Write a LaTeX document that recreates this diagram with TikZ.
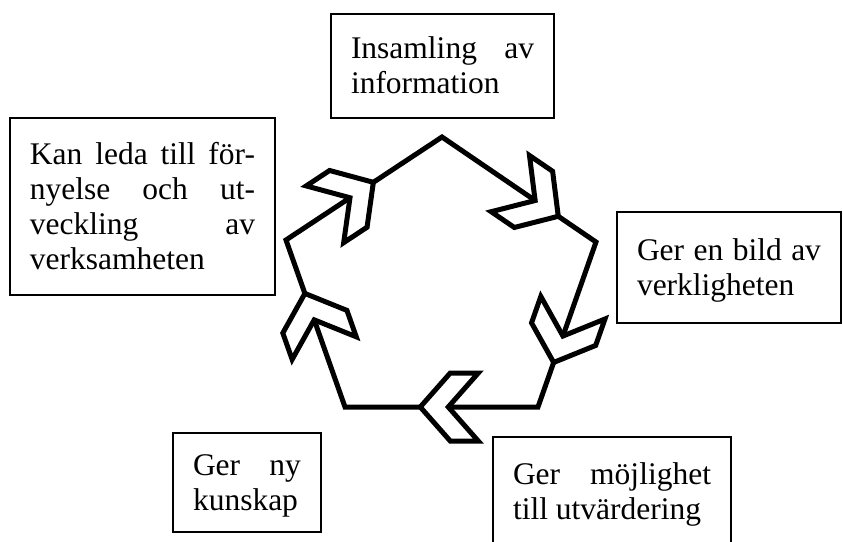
\documentclass[tikz,border=0pt]{standalone}
\usepackage{fontspec}
\setmainfont{Liberation Serif}
\tikzstyle{textbox} =
  [rectangle, draw, line width=0.6pt, inner xsep=10pt, inner ysep=0pt,
   align=justify, font=\fontsize{15.75pt}{17.5pt}\selectfont,
   execute at begin node=\rule{0pt}{15.25pt}, execute at end node=\strut]
\tikzstyle{cycleline}=[draw, line width=2.5pt]
\tikzset{chevron/.pic={
  \draw [cycleline, fill=white] (0,0) -- (-30,34) -- (-58,34) -- (-28,0)
    -- (-58,-34) -- (-30,-34) -- cycle;}}

\begin{document}
\begin{tikzpicture}[x=0.5pt, y=-0.5pt]
  \useasboundingbox (0,0) rectangle (843,542);

  \coordinate (t) at (442,137);
  \coordinate (r) at (596,242);
  \coordinate (br) at (538,407);
  \coordinate (bl) at (345,407);
  \coordinate (l) at (286,240);

  \draw [cycleline] (t) -- (r) -- (br) -- (bl) -- (l) -- cycle;
  \path (t) -- pic [pos=0.755, sloped, allow upside down] {chevron} (r);
  \path (r) -- pic [pos=0.73, sloped, allow upside down] {chevron} (br);
  \path (br) -- pic [pos=0.61, sloped, allow upside down] {chevron} (bl);
  \path (bl) -- pic [pos=0.68, sloped, allow upside down] {chevron} (l);
  \path (l) -- pic [pos=0.56, sloped, allow upside down] {chevron} (t);

  \node [textbox, text width=91.5pt, minimum height=52pt] (info) at (442.5,66)
    {Insamling av\linebreak information};
  \node [textbox, text width=112.5pt, minimum height=88.5pt] (forn) at (142.5,206.5)
    {Kan leda till för-\linebreak nyelse och ut-\linebreak veckling av\linebreak verksamheten};
  \node [textbox, text width=92pt, minimum height=55.5pt] (bild) at (729,267.5)
    {Ger en bild av\linebreak verkligheten};
  \node [textbox, text width=99pt, minimum height=54.5pt] (utv) at (612,491.5)
    {Ger möjlighet\linebreak till utvärdering};
  \node [textbox, text width=54pt, minimum height=49.5pt] (kun) at (247,482.5)
    {Ger ny\linebreak kunskap};

\end{tikzpicture}
\end{document}
